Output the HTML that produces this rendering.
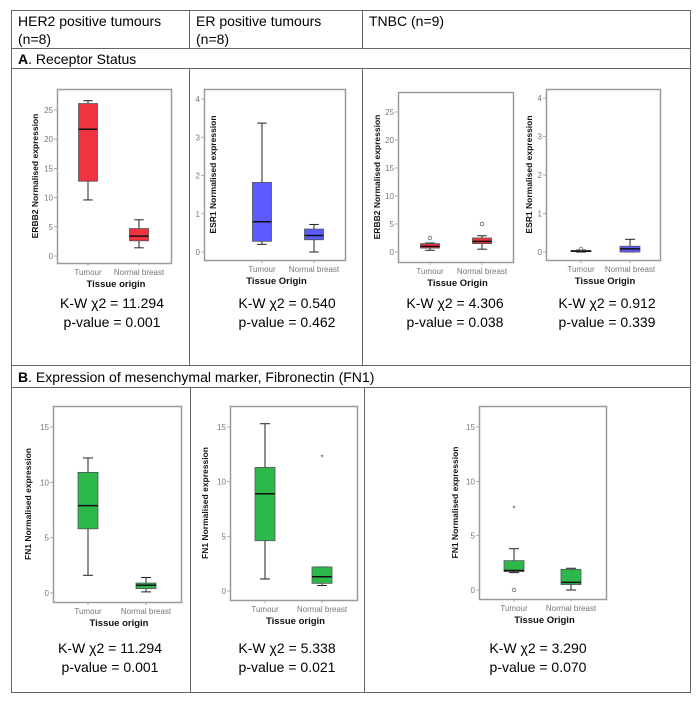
<!DOCTYPE html>
<html><head><meta charset="utf-8"><style>
html,body{margin:0;padding:0;background:#fff;}
svg{display:block;font-family:"Liberation Sans",sans-serif;}
</style></head><body>
<svg id="fig" width="700" height="708" viewBox="0 0 700 708">
<g stroke="#666" stroke-width="1" fill="none">
<rect x="11.5" y="10.5" width="679" height="682"/>
<line x1="11" y1="48.5" x2="690" y2="48.5"/>
<line x1="11" y1="68.5" x2="690" y2="68.5"/>
<line x1="11" y1="365.5" x2="690" y2="365.5"/>
<line x1="11" y1="387.5" x2="690" y2="387.5"/>
<line x1="189.5" y1="10" x2="189.5" y2="48"/>
<line x1="362.5" y1="10" x2="362.5" y2="48"/>
<line x1="189.5" y1="68" x2="189.5" y2="365"/>
<line x1="362.5" y1="68" x2="362.5" y2="365"/>
<line x1="190.5" y1="387" x2="190.5" y2="692"/>
<line x1="364.5" y1="387" x2="364.5" y2="692"/>
</g>
<g font-size="14" fill="#000">
<text x="18" y="26">HER2 positive tumours</text>
<text x="18" y="44">(n=8)</text>
<text x="196" y="26">ER positive tumours</text>
<text x="196" y="44">(n=8)</text>
<text x="369" y="26">TNBC (n=9)</text>
<text x="18" y="64"><tspan font-weight="bold">A</tspan>. Receptor Status</text>
<text x="18" y="382"><tspan font-weight="bold">B</tspan>. Expression of mesenchymal marker, Fibronectin (FN1)</text>
</g>
<g id="charts"></g>
</svg>
<script>
// Data
const categories = ["Tumour", "Normal breast"];
// [whiskerLow, Q1, median, Q3, whiskerHigh]
const her2Erbb2 = [[9.6, 12.8, 21.7, 26.1, 26.6], [1.4, 2.6, 3.4, 4.7, 6.2]];
const erEsr1 = [[0.2, 0.28, 0.79, 1.82, 3.37], [0.0, 0.32, 0.43, 0.6, 0.72]];
const tnbcErbb2 = [[0.3, 0.7, 1.0, 1.5, 1.6], [0.5, 1.5, 1.9, 2.5, 2.9]];
const tnbcErbb2Outliers = [[2.5], [5.0]];
const tnbcEsr1 = [[0.0, 0.01, 0.02, 0.04, 0.05], [0.0, 0.0, 0.08, 0.15, 0.33]];
const tnbcEsr1Outliers = [[0.08], []];
const her2Fn1 = [[1.6, 5.8, 7.9, 10.9, 12.2], [0.1, 0.4, 0.7, 0.9, 1.4]];
const erFn1 = [[1.1, 4.6, 8.9, 11.3, 15.3], [0.5, 0.7, 1.3, 2.2, 2.2]];
const erFn1Stars = [[], [12.3]];
const tnbcFn1 = [[1.6, 1.7, 1.8, 2.7, 3.8], [0.0, 0.5, 0.7, 1.9, 2.0]];
const tnbcFn1Stars = [[7.6], []];
const tnbcFn1Outliers = [[0.0], []];
const erbb2Ticks = [0, 5, 10, 15, 20, 25];
const esr1Ticks = [0, 1, 2, 3, 4];
const fn1Ticks = [0, 5, 10, 15];
const statsKW = ["11.294", "0.540", "4.306", "0.912", "11.294", "5.338", "3.290"];
const statsP = ["0.001", "0.462", "0.038", "0.339", "0.001", "0.021", "0.070"];

const NS = "http://www.w3.org/2000/svg";
const root = document.getElementById("charts");
function mk(tag, attrs, parent) {
  const e = document.createElementNS(NS, tag);
  for (const k in attrs) e.setAttribute(k, attrs[k]);
  (parent || root).appendChild(e);
  return e;
}

const charts = [
  {id:"her2-erbb2", data:her2Erbb2, ticks:erbb2Ticks, ymax:25, color:"#ef3340", ytitle:"ERBB2 Normalised expression", xtitle:"Tissue origin",
   fx0:57, fx1:171, fy0:89, fy1:263, py0:256, pyMax:110, cx:[88,139], bw:19, tx:38, sx:112, sy:308},
  {id:"er-esr1", data:erEsr1, ticks:esr1Ticks, ymax:4, color:"#5b5bff", ytitle:"ESR1 Normalised expression", xtitle:"Tissue Origin",
   fx0:204, fx1:345, fy0:89, fy1:260, py0:252, pyMax:99, cx:[262,314], bw:19, tx:216, sx:287, sy:308},
  {id:"tnbc-erbb2", data:tnbcErbb2, outl:tnbcErbb2Outliers, ticks:erbb2Ticks, ymax:25, color:"#ef3340", ytitle:"ERBB2 Normalised expression", xtitle:"Tissue Origin",
   fx0:398, fx1:513, fy0:92, fy1:262, py0:252, pyMax:112, cx:[430,482], bw:19, tx:380, sx:455, sy:308},
  {id:"tnbc-esr1", data:tnbcEsr1, outl:tnbcEsr1Outliers, ticks:esr1Ticks, ymax:4, color:"#5b5bff", ytitle:"ESR1 Normalised expression", xtitle:"Tissue Origin",
   fx0:546, fx1:660, fy0:89, fy1:260, py0:252, pyMax:98, cx:[581,630], bw:20, tx:532, sx:607, sy:308},
  {id:"her2-fn1", data:her2Fn1, ticks:fn1Ticks, ymax:15, color:"#2db84b", ytitle:"FN1 Normalised expression", xtitle:"Tissue origin",
   fx0:53, fx1:181, fy0:406, fy1:602, py0:593, pyMax:427, cx:[88,146], bw:20, tx:31, sx:110, sy:653},
  {id:"er-fn1", data:erFn1, stars:erFn1Stars, ticks:fn1Ticks, ymax:15, color:"#2db84b", ytitle:"FN1 Normalised expression", xtitle:"Tissue origin",
   fx0:230, fx1:357, fy0:406, fy1:600, py0:591, pyMax:427, cx:[265,322], bw:20, tx:208, sx:287, sy:653},
  {id:"tnbc-fn1", data:tnbcFn1, stars:tnbcFn1Stars, outl:tnbcFn1Outliers, ticks:fn1Ticks, ymax:15, color:"#2db84b", ytitle:"FN1 Normalised expression", xtitle:"Tissue Origin",
   fx0:479, fx1:606, fy0:406, fy1:599, py0:590, pyMax:427, cx:[514,571], bw:20, tx:458, sx:538, sy:653}
];

charts.forEach((c, ci) => {
  const g = mk("g", {});
  
  
  const y = v => c.py0 - (v / c.ymax) * (c.py0 - c.pyMax);
  const fr = mk("rect", {x:c.fx0+0.5, y:c.fy0+0.5, width:c.fx1-c.fx0, height:c.fy1-c.fy0, fill:"#fff", stroke:"#9a9a9a", "stroke-width":1.5}, g);
  
  
  c.ticks.forEach(t => {
    const ty = y(t);
    mk("line", {x1:c.fx0-3, x2:c.fx0, y1:ty, y2:ty, stroke:"#999", "stroke-width":0.8}, g);
    const tl = mk("text", {x:c.fx0-4, y:ty+3, "font-size":8, fill:"#777", "text-anchor":"end"}, g);
    tl.textContent = t;
    
    
  });
  const yt = mk("text", {x:c.tx, y:(c.fy0+c.fy1)/2, "font-size":8.5, "font-weight":"bold", fill:"#111", "text-anchor":"middle", transform:`rotate(-90 ${c.tx} ${(c.fy0+c.fy1)/2})`}, g);
  yt.textContent = c.ytitle;
  
  
  categories.forEach((cat, i) => {
    const x = c.cx[i];
    mk("line", {x1:x, x2:x, y1:c.fy1, y2:c.fy1+3, stroke:"#999", "stroke-width":0.8}, g);
    const xl = mk("text", {x:x, y:c.fy1+12, "font-size":8, fill:"#777", "text-anchor":"middle"}, g);
    xl.textContent = cat;
    
    
    const d = c.data[i];
    const bg = mk("g", {}, g);
    
    
    const hw = c.bw / 2;
    mk("line", {x1:x, x2:x, y1:y(d[0]), y2:y(d[1]), stroke:"#222", "stroke-width":1}, bg);
    mk("line", {x1:x, x2:x, y1:y(d[3]), y2:y(d[4]), stroke:"#222", "stroke-width":1}, bg);
    mk("line", {x1:x-hw/2, x2:x+hw/2, y1:y(d[0]), y2:y(d[0]), stroke:"#222", "stroke-width":1}, bg);
    mk("line", {x1:x-hw/2, x2:x+hw/2, y1:y(d[4]), y2:y(d[4]), stroke:"#222", "stroke-width":1}, bg);
    mk("rect", {x:x-hw, y:y(d[3]), width:c.bw, height:Math.max(1, y(d[1])-y(d[3])), fill:c.color, stroke:"#555", "stroke-width":0.8}, bg);
    mk("line", {x1:x-hw, x2:x+hw, y1:y(d[2]), y2:y(d[2]), stroke:"#111", "stroke-width":1.5}, bg);
    (c.outl ? c.outl[i] : []).forEach(v => {
      const o = mk("circle", {cx:x, cy:y(v), r:1.8, fill:"none", stroke:"#666", "stroke-width":0.8}, g);
      
      
    });
    (c.stars ? c.stars[i] : []).forEach(v => {
      const s = mk("text", {x:x, y:y(v)+4, "font-size":8, fill:"#444", "text-anchor":"middle"}, g);
      s.textContent = "*";
      
      
    });
  });
  const xt = mk("text", {x:(c.fx0+c.fx1)/2+2, y:c.fy1+24, "font-size":9.5, "font-weight":"bold", fill:"#111", "text-anchor":"middle"}, g);
  xt.textContent = c.xtitle;
  
  
  const s1 = mk("text", {x:c.sx, y:c.sy, "font-size":14, fill:"#000", "text-anchor":"middle"}, g);
  s1.textContent = "K-W \u03C72 = " + statsKW[ci];
  
  
  const s2 = mk("text", {x:c.sx, y:c.sy+19, "font-size":14, fill:"#000", "text-anchor":"middle"}, g);
  s2.textContent = "p-value = " + statsP[ci];
  
  
});
</script>
</body></html>
